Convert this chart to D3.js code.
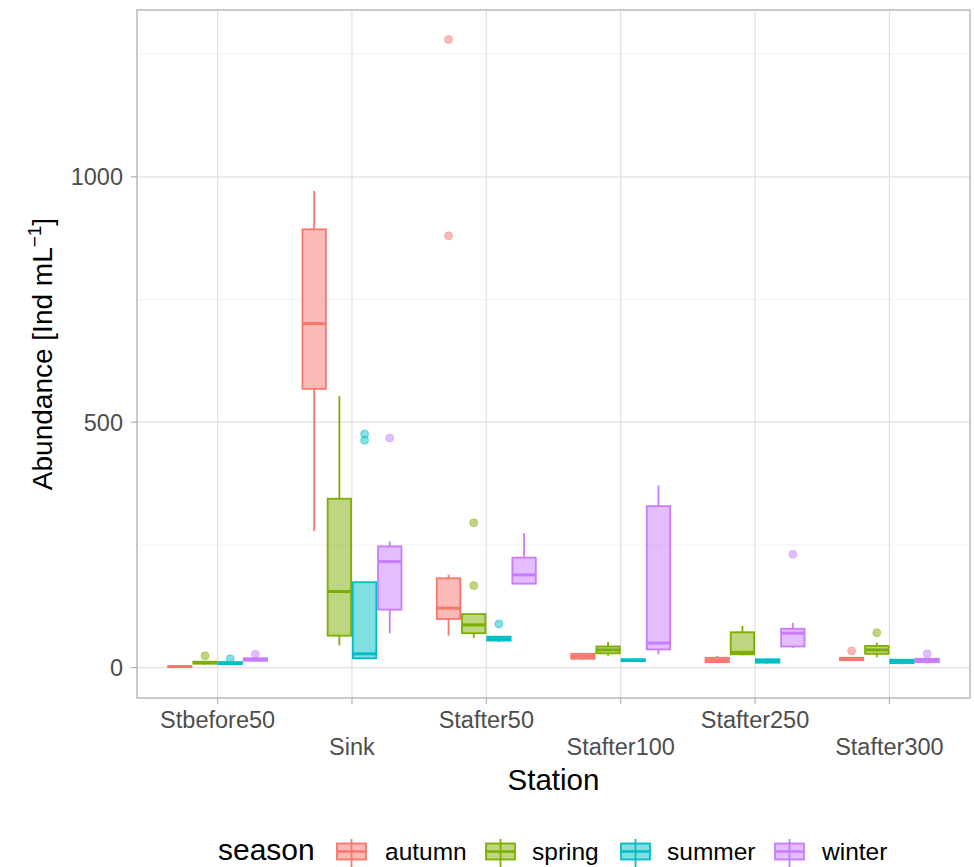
<!DOCTYPE html>
<html><head><meta charset="utf-8">
<script src="https://cdn.jsdelivr.net/npm/d3@7"></script>
<style>
body{margin:0;background:#fff;}
text{font-family:"Liberation Sans",Arial,Helvetica,sans-serif;}
</style></head>
<body>
<svg id="chart" width="974" height="867"></svg>
<script>
// ---- data ----
const stations = ["Stbefore50","Sink","Stafter50","Stafter100","Stafter250","Stafter300"];
const seasons = ["autumn","spring","summer","winter"];
const seasonColors = ["#F8766D","#7CAE00","#00BFC4","#C77CFF"];
const yTicks = [0, 500, 1000];
const yMinorTicks = [250, 750, 1250];
// five-number summaries per station: [lower whisker, q1, median, q3, upper whisker]
const autumnStats = [[0,1,2,3,4],[278,568,701,893,971],[65,99,121,182,189],[16,18,23,28,29],[10,11,15,20,24],[14,15,17,20,21]];
const springStats = [[6,8,10,12,13],[45,65,155,344,553],[60,70,87,109,109],[24,29,36,43,52],[25,27,31,72,85],[21,28,36,44,51]];
const summerStats = [[6,7,9,11,12],[18,19,28,174,174],[52,55,59,63,64],[12,13,15,17,18],[8,10,13,17,18],[7,9,13,16,17]];
const winterStats = [[13,14,16,19,20],[70,118,216,247,257],[170,171,189,224,274],[27,37,50,329,371],[40,43,70,79,91],[10,11,15,18,19]];
// outliers per station
const autumnOut = [[],[],[880,1280],[],[],[34]];
const springOut = [[24],[],[167,295],[],[],[71]];
const summerOut = [[18],[463,476],[89],[],[],[]];
const winterOut = [[27],[468],[],[],[231],[28]];

const statsBySeason = [autumnStats, springStats, summerStats, winterStats];
const outBySeason = [autumnOut, springOut, summerOut, winterOut];

// ---- layout ----
const svg = d3.select("#chart");
const P = {left:137, right:970, top:10, bottom:698};
const step = (P.right - P.left) / (stations.length - 1 + 1.2);
const x = d3.scalePoint().domain(stations).range([P.left + 0.6*step, P.right - 0.6*step]);
const y = d3.scaleLinear().domain([-62, 1340]).range([P.bottom, P.top]);
const slot = step * 0.75 / seasons.length;
const boxW = slot * 0.93;

// grid
const g = svg.append("g");
g.selectAll(".minor").data(yMinorTicks).join("line")
  .attr("x1",P.left).attr("x2",P.right).attr("y1",d=>y(d)).attr("y2",d=>y(d))
  .attr("stroke","#EDEDED").attr("stroke-width",0.8);
g.selectAll(".major").data(yTicks).join("line")
  .attr("x1",P.left).attr("x2",P.right).attr("y1",d=>y(d)).attr("y2",d=>y(d))
  .attr("stroke","#E0E0E0").attr("stroke-width",1.2);
g.selectAll(".vmajor").data(stations).join("line")
  .attr("x1",d=>x(d)).attr("x2",d=>x(d)).attr("y1",P.top).attr("y2",P.bottom)
  .attr("stroke","#E0E0E0").attr("stroke-width",1.2);

// boxes
seasons.forEach((s, si) => {
  const col = seasonColors[si];
  const off = (si - (seasons.length-1)/2) * slot;
  const grp = svg.append("g");
  stations.forEach((st, i) => {
    const [lo,q1,md,q3,hi] = statsBySeason[si][i];
    const cx = x(st) + off;
    grp.append("line").attr("x1",cx).attr("x2",cx).attr("y1",y(hi)).attr("y2",y(q3))
      .attr("stroke",col).attr("stroke-width",1.8);
    grp.append("line").attr("x1",cx).attr("x2",cx).attr("y1",y(q1)).attr("y2",y(lo))
      .attr("stroke",col).attr("stroke-width",1.8);
    grp.append("rect").attr("x",cx-boxW/2).attr("width",boxW)
      .attr("y",y(q3)).attr("height",Math.max(y(q1)-y(q3),0.5))
      .attr("fill",col).attr("fill-opacity",0.5)
      .attr("stroke",col).attr("stroke-width",1.8);
    grp.append("line").attr("x1",cx-boxW/2).attr("x2",cx+boxW/2).attr("y1",y(md)).attr("y2",y(md))
      .attr("stroke",col).attr("stroke-width",3);
    outBySeason[si][i].forEach(v => {
      grp.append("circle").attr("cx",cx).attr("cy",y(v)).attr("r",4)
        .attr("fill",col).attr("fill-opacity",0.5)
        .attr("stroke",col).attr("stroke-opacity",0.4).attr("stroke-width",1);
    });
  });
});

// panel border
svg.append("rect").attr("x",P.left).attr("y",P.top).attr("width",P.right-P.left).attr("height",P.bottom-P.top)
  .attr("fill","none").attr("stroke","#BDBDBD").attr("stroke-width",1.6);

// y axis ticks + labels
svg.selectAll(".yt").data(yTicks).join("line")
  .attr("x1",P.left-6).attr("x2",P.left).attr("y1",d=>y(d)).attr("y2",d=>y(d))
  .attr("stroke","#B3B3B3").attr("stroke-width",1.2);
svg.selectAll(".yl").data(yTicks).join("text")
  .attr("x",P.left-14).attr("y",d=>y(d)).attr("dy","0.36em")
  .attr("text-anchor","end").attr("font-size",23.5).attr("fill","#4D4D4D")
  .text(d=>d);

// x axis ticks + labels (dodged rows)
svg.selectAll(".xt").data(stations).join("line")
  .attr("x1",d=>x(d)).attr("x2",d=>x(d)).attr("y1",P.bottom).attr("y2",P.bottom+6)
  .attr("stroke","#B3B3B3").attr("stroke-width",1.2);
svg.selectAll(".xl").data(stations).join("text")
  .attr("x",d=>x(d)).attr("y",(d,i)=> i%2===0 ? 728 : 755)
  .attr("text-anchor","middle").attr("font-size",23.5).attr("fill","#4D4D4D")
  .text(d=>d);

// axis titles
svg.append("text").attr("x",(P.left+P.right)/2).attr("y",790)
  .attr("text-anchor","middle").attr("font-size",29.5).attr("fill","#000").text("Station");
const yt = svg.append("text").attr("transform",`translate(52,${(P.top+P.bottom)/2}) rotate(-90)`)
  .attr("text-anchor","middle").attr("font-size",28).attr("fill","#000");
yt.append("tspan").text("Abundance [Ind mL");
yt.append("tspan").attr("font-size",19).attr("dy",-11).text("\u22121");
yt.append("tspan").attr("dy",11).text("]");

// legend
const legY = 860;
svg.append("text").attr("x",218).attr("y",legY).attr("font-size",30).attr("fill","#000").text("season");
const keyX = [337, 486, 621, 775];
const labX = [385, 532, 667, 822];
seasons.forEach((s, si) => {
  const col = seasonColors[si];
  const kx = keyX[si], kw = 29, cx = kx + kw/2;
  svg.append("line").attr("x1",cx).attr("x2",cx).attr("y1",839).attr("y2",867)
    .attr("stroke",col).attr("stroke-width",1.8);
  svg.append("rect").attr("x",kx).attr("y",843.5).attr("width",kw).attr("height",16)
    .attr("fill",col).attr("fill-opacity",0.5).attr("stroke",col).attr("stroke-width",1.8);
  svg.append("line").attr("x1",kx).attr("x2",kx+kw).attr("y1",851.5).attr("y2",851.5)
    .attr("stroke",col).attr("stroke-width",2.5);
  svg.append("text").attr("x",labX[si]).attr("y",legY).attr("font-size",24.5).attr("fill","#000").text(s);
});
</script>
</body></html>
